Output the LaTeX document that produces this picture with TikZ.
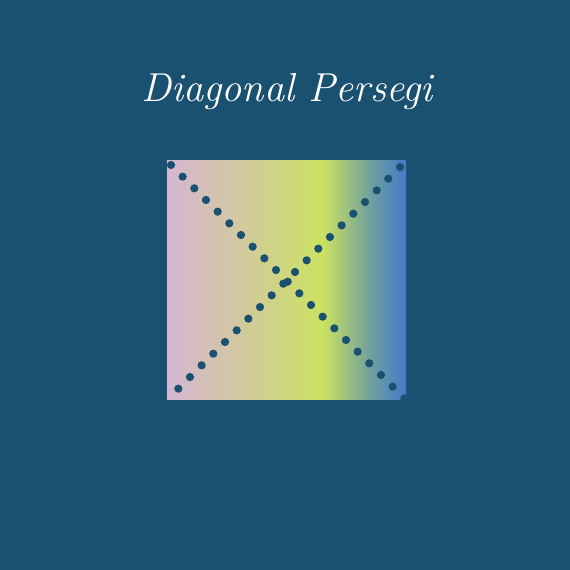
\documentclass[tikz,border=0pt]{standalone}
\usepackage{tikz}
\definecolor{bgblue}{RGB}{27,81,112}
\definecolor{sqpink}{RGB}{214,182,210}
\definecolor{sqbeige}{RGB}{210,200,160}
\definecolor{sqlime}{RGB}{203,226,96}
\definecolor{sqteal}{RGB}{112,160,158}
\definecolor{sqblue}{RGB}{70,124,198}
\pgfdeclarehorizontalshading{persegi}{100bp}{color(0bp)=(sqpink); color(25bp)=(sqpink);
  color(40bp)=(sqbeige); color(57.5bp)=(sqlime); color(67.5bp)=(sqteal); color(74.5bp)=(sqblue); color(100bp)=(sqblue)}
\tikzset{
  ttl/.style={font=\fontsize{23}{27}\selectfont\itshape, text=white, inner sep=0pt},
  sqbox/.style={shade, shading=persegi, minimum size=4.78cm, inner sep=0pt, outer sep=0pt},
  diag/.style={draw=bgblue, line width=0.165cm, line cap=round, dash pattern=on 0pt off 0.33cm}
}

\begin{document}
\begin{tikzpicture}
\fill[bgblue] (0,0) rectangle (11.4,11.4);
\useasboundingbox (0,0) rectangle (11.4,11.4);
\node[ttl] (title) at (5.74,9.56) {Diagonal Persegi};
\node[sqbox] (sq) at (5.73,5.79) {};
\draw[diag, dash phase=0.217cm] (sq.north west) -- (sq.south east);
\draw[diag, dash phase=0.01cm] (sq.south west) -- (sq.north east);
\end{tikzpicture}
\end{document}
